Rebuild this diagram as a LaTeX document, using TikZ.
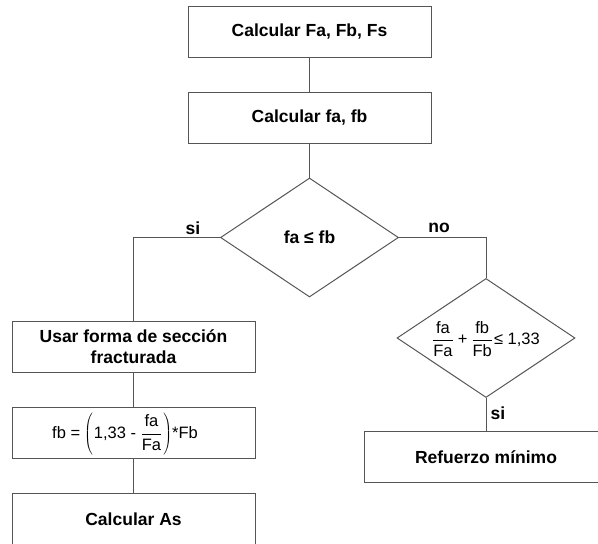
\documentclass[tikz,border=0pt]{standalone}
\usepackage{fontspec}
\setmainfont{Liberation Sans}
\usetikzlibrary{shapes.geometric}
\definecolor{lc}{HTML}{555555}
\newcommand\myfr[2]{\displaystyle\frac{\hbox{#1}}{\hbox{#2}}}
\begin{document}
\begin{tikzpicture}[x=1pt,y=-1pt,
  conn/.style={draw=lc, line width=1pt},
  procbox/.style={draw=lc, line width=1pt, rectangle, minimum width=243pt, minimum height=51pt, inner sep=0pt, align=center, text=black, font=\bfseries\fontsize{17.5}{20.5}\selectfont},
  decbox/.style={draw=lc, line width=1pt, diamond, minimum width=178pt, minimum height=119pt, inner sep=0pt},
  lbl/.style={text=black, inner sep=0pt, font=\bfseries\fontsize{17.5}{20.5}\selectfont},
  frm/.style={text=black, inner sep=0pt, font=\fontsize{16.5}{19}\selectfont}]
\clip (0,0) rectangle (598,544);
\fill[white] (0,0) rectangle (598,544);
\node[procbox] (b1) at (309.5,31.5) {Calcular Fa, Fb, Fs};
\node[procbox] (b2) at (309.5,118) {Calcular fa, fb};
\node[decbox] (d1) at (309.5,237.5) {};
\node[lbl] (t1) at (309.5,237.5) {fa ≤ fb};
\node[procbox] (b3) at (133.5,346.5) {Usar forma de sección\\fracturada};
\node[procbox] (b4) at (133.5,433) {};
\node[frm] (t4) at (125,434) {fb =\kern4pt$\left(\vcenter{\hbox{\rule{0pt}{40pt}}}\hbox{\kern1pt 1,33 - }\myfr{fa}{Fa}\kern1pt\right)$\hbox{*Fb}};
\node[procbox] (b5) at (133.5,519) {Calcular As};
\node[decbox] (d2) at (486,338) {};
\node[frm] (t2) at (486,339) {$\myfr{fa}{Fa}$\kern4pt+\kern4pt$\myfr{fb}{Fb}$\kern1pt≤ 1,33};
\node[procbox] (b6) at (486,457) {Refuerzo mínimo};
\node[lbl] (s1) at (193,228) {si};
\node[lbl] (n1) at (439,228) {no};
\node[lbl] (s2) at (498,413) {si};
\draw[conn] (b1.south) -- (b2.north);
\draw[conn] (b2.south) -- (d1.north);
\draw[conn] (d1.west) -| (b3.north);
\draw[conn] (d1.east) -| (d2.north);
\draw[conn] (b3.south) -- (b4.north);
\draw[conn] (b4.south) -- (b5.north);
\draw[conn] (d2.south) -- (b6.north);
\end{tikzpicture}
\end{document}
